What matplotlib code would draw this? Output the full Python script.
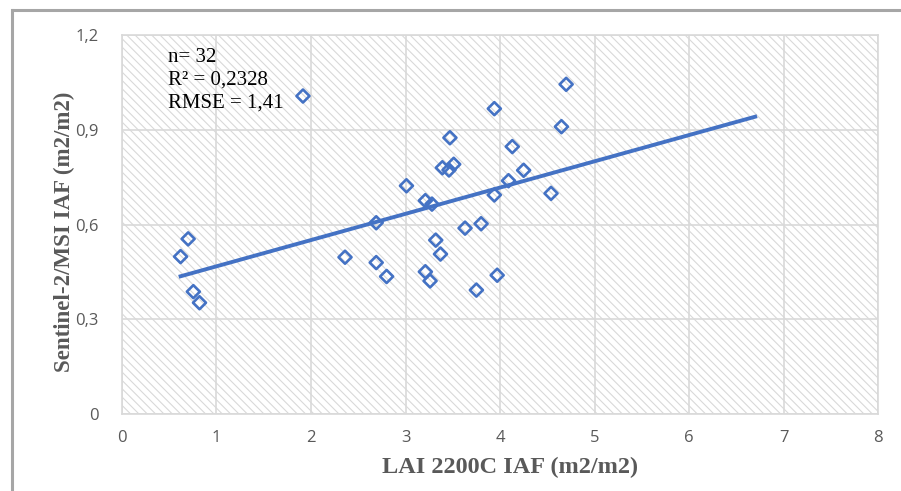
import matplotlib
matplotlib.use('Agg')

import matplotlib.pyplot as plt
from matplotlib.lines import Line2D
from matplotlib.patches import Rectangle
import numpy as np

# Datos (LAI 2200C vs Sentinel-2/MSI)
lai_2200c = [1.915, 4.70, 3.94, 4.65, 3.47, 4.13, 3.39, 3.46, 3.51, 4.25, 3.01,
             4.09, 3.21, 3.28, 3.94, 4.54, 3.63, 3.80, 3.32, 3.37, 3.21, 3.26,
             3.75, 3.97, 0.62, 0.70, 0.755, 0.82, 2.36, 2.69, 2.69, 2.80]
sentinel2 = [1.007, 1.044, 0.967, 0.910, 0.875, 0.847, 0.780, 0.773, 0.791, 0.772, 0.723,
             0.739, 0.676, 0.665, 0.694, 0.699, 0.589, 0.603, 0.551, 0.507, 0.451, 0.422,
             0.393, 0.440, 0.499, 0.555, 0.388, 0.353, 0.497, 0.606, 0.480, 0.436]
trend_x = [0.62, 6.70]
x_ticks = [0, 1, 2, 3, 4, 5, 6, 7, 8]
y_ticks = [0, 0.3, 0.6, 0.9, 1.2]
y_labels = ["0", "0,3", "0,6", "0,9", "1,2"]
stats_lines = ["n= 32", "R² = 0,2328", "RMSE = 1,41"]

AZUL = "#4472C4"
GRIS = "#595959"

fig = plt.figure(figsize=(9.01, 4.91), dpi=100)
ax = fig.add_axes([0.1354, 0.1562, 0.8391, 0.7725])

# Fondo rayado
plt.rcParams['hatch.linewidth'] = 0.8
fondo = Rectangle((0, 0), 1, 1, transform=ax.transAxes, facecolor="white",
                  edgecolor="#d9d9d9", hatch="\\\\\\\\", linewidth=0, zorder=0)
ax.add_patch(fondo)

ax.grid(True, color="#d9d9d9", linewidth=1.2)
ax.set_axisbelow(True)
for s in ax.spines.values():
    s.set_color("#d9d9d9")
    s.set_linewidth(1.2)

ax.scatter(lai_2200c, sentinel2, marker="D", s=44, facecolors="none",
           edgecolors=AZUL, linewidths=1.9, zorder=3)

# Linea de tendencia (minimos cuadrados)
m, b = np.polyfit(lai_2200c, sentinel2, 1)
tx = np.array(trend_x)
ax.plot(tx, m * tx + b, color=AZUL, linewidth=2.8, zorder=2)

ax.set_xlim(0, 8)
ax.set_ylim(0, 1.2)
ax.set_xticks(x_ticks)
ax.set_yticks(y_ticks)
ax.set_yticklabels(y_labels)
ax.tick_params(length=0, labelsize=12, labelcolor=GRIS)
ax.tick_params(axis="y", pad=17)
ax.tick_params(axis="x", pad=11)
for lab in ax.get_xticklabels() + ax.get_yticklabels():
    lab.set_family("Open Sans")

ax.set_xlabel("LAI 2200C IAF (m2/m2)", family="Liberation Serif", fontsize=17.5,
              fontweight="bold", color=GRIS, labelpad=8)
ax.set_ylabel("Sentinel-2/MSI IAF (m2/m2)", family="Liberation Serif", fontsize=16.5,
              fontweight="bold", color=GRIS, labelpad=0)
ax.xaxis.label.set_x(0.513)
ax.yaxis.label.set_y(0.481)

for i, t in enumerate(stats_lines):
    ax.text(0.061, 0.940 - i * 0.0595, t, transform=ax.transAxes, family="Liberation Serif",
            fontsize=15, color="black", va="center", ha="left")

# Marco de la captura
fig.add_artist(Line2D([0.014, 1.0], [0.98, 0.98], transform=fig.transFigure,
                      color="#a6a6a6", linewidth=2.2))
fig.add_artist(Line2D([0.013, 0.013], [0.0, 0.98], transform=fig.transFigure,
                      color="#a6a6a6", linewidth=2.2))

plt.savefig("out.png", dpi=100)
plt.close(fig)
